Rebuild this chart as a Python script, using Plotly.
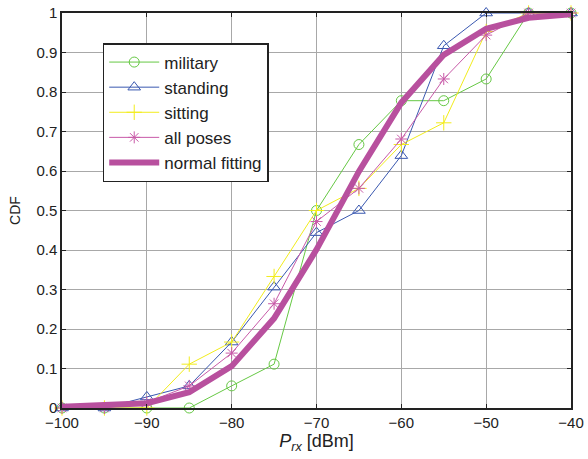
import plotly.graph_objects as go

# received power [dBm]
prx = [-100, -95, -90, -85, -80, -75, -70, -65, -60, -55, -50, -45, -40]

military = [0, 0, 0, 0, 0.056, 0.111, 0.5, 0.667, 0.778, 0.778, 0.833, 1, 1]
standing = [0, 0, 0.028, 0.056, 0.167, 0.306, 0.444, 0.5, 0.639, 0.917, 1, 1, 1]
sitting = [0, 0, 0, 0.111, 0.167, 0.333, 0.5, 0.556, 0.667, 0.722, 0.953, 1, 1]
all_poses = [0, 0, 0.014, 0.056, 0.139, 0.264, 0.472, 0.556, 0.681, 0.833, 0.944, 1, 1]
normal_fit = [0.003, 0.006, 0.012, 0.040, 0.106, 0.227, 0.401, 0.599, 0.773, 0.894, 0.960, 0.988, 0.997]

FONT = "Liberation Sans, Arial, sans-serif"

fig = go.Figure()
fig.add_trace(go.Scatter(
    x=prx, y=military, mode="lines+markers", name="military", cliponaxis=False,
    line=dict(color="#66c844", width=1),
    marker=dict(symbol="circle-open", size=10, color="#66c844", line=dict(width=1)),
))
fig.add_trace(go.Scatter(
    x=prx, y=standing, mode="lines+markers", name="standing", cliponaxis=False,
    line=dict(color="#3a58b0", width=1),
    marker=dict(symbol="triangle-up-open", size=11, color="#3a58b0", line=dict(width=1)),
))
fig.add_trace(go.Scatter(
    x=prx, y=sitting, mode="lines+markers", name="sitting", cliponaxis=False,
    line=dict(color="#f2ec1c", width=1),
    marker=dict(symbol="cross-thin-open", size=11, color="#f2ec1c", line=dict(width=1, color="#f2ec1c")),
))
fig.add_trace(go.Scatter(
    x=prx, y=all_poses, mode="lines+markers", name="all poses", cliponaxis=False,
    line=dict(color="#c85aa8", width=1),
    marker=dict(symbol="asterisk-open", size=10, color="#c85aa8", line=dict(width=1, color="#c85aa8")),
))
fig.add_trace(go.Scatter(
    x=prx, y=normal_fit, mode="lines", name="normal fitting", cliponaxis=False,
    line=dict(color="#b8509e", width=6),
))

axis_common = dict(
    showline=True, linecolor="#222222", linewidth=1.5, mirror="ticks",
    ticks="inside", ticklen=4, tickcolor="#222222",
    showgrid=True, gridcolor="#a8a8a8", gridwidth=1,
    zeroline=False, automargin=False,
    tickfont=dict(family=FONT, size=15, color="#222222"),
)

fig.update_xaxes(
    range=[-100, -40], tickvals=list(range(-100, -39, 10)),
    title=dict(text="<i>P</i><sub><i>rx</i></sub> [dBm]", font=dict(family=FONT, size=18, color="#222222"), standoff=2),
    **axis_common,
)
fig.update_yaxes(
    range=[0, 1], tickvals=[i / 10 for i in range(11)],
    ticktext=["0", "0.1", "0.2", "0.3", "0.4", "0.5", "0.6", "0.7", "0.8", "0.9", "1"],
    title=dict(text="CDF", font=dict(family=FONT, size=14, color="#222222"), standoff=12),
    **axis_common,
)

fig.update_layout(
    width=588, height=459,
    margin=dict(l=62, r=17, t=13, b=51),
    plot_bgcolor="white", paper_bgcolor="white",
    font=dict(family=FONT, color="#222222"),
    showlegend=True,
    legend=dict(
        x=0.08, y=0.924, xanchor="left", yanchor="top",
        bgcolor="white", bordercolor="#222222", borderwidth=1.5,
        font=dict(family=FONT, size=17, color="#222222"),
        tracegroupgap=0, itemwidth=50,
    ),
)

# drop the browser's default 8px body margin so the figure fills the window
fig.write_html(
    "out.html",
    config={"displayModeBar": False},
    post_script="document.body.style.margin = '0';",
)
